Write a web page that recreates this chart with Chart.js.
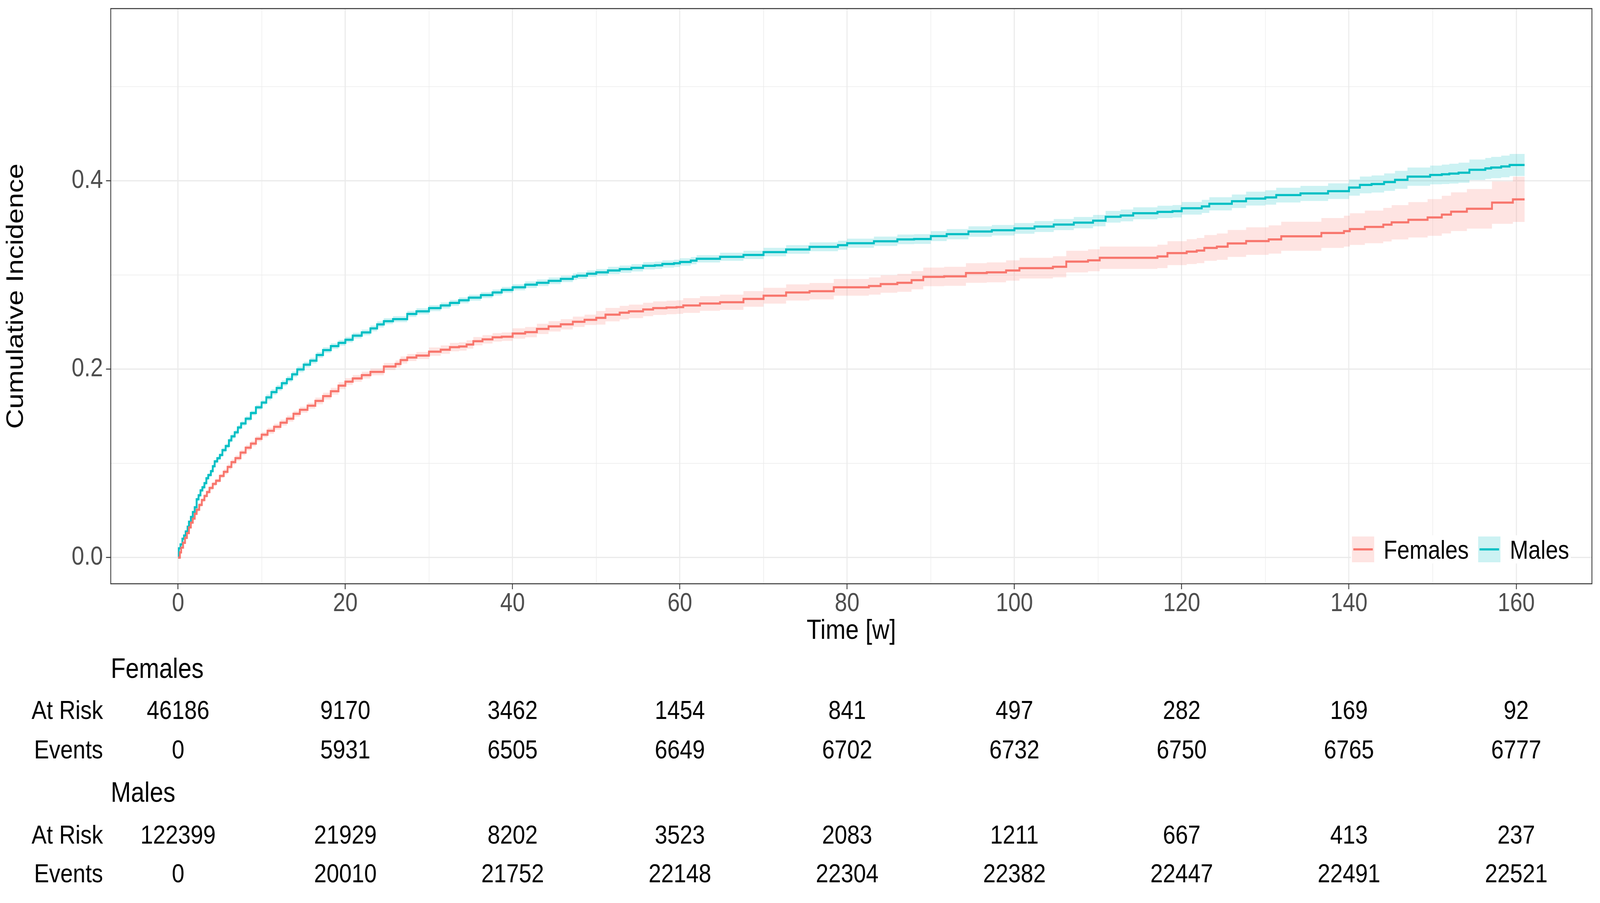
<!DOCTYPE html>
<html>
<head>
<meta charset="utf-8">
<title>Cumulative Incidence by Sex</title>
<script src="https://cdn.jsdelivr.net/npm/chart.js@4.4.1/dist/chart.umd.min.js"></script>
<style>
  html, body { margin: 0; padding: 0; background: #ffffff; overflow: hidden; }
  canvas { display: block; }
</style>
</head>
<body>
<canvas id="cifChart" width="4754" height="2311" style="width:100vw;height:100vh"></canvas>
<script>
// step points (weeks, cumulative incidence, 95% band)
var femaleTime = [0, 0.22, 0.37, 0.6, 0.83, 1.06, 1.3, 1.53, 1.76, 1.99, 2.22, 2.53, 2.84, 3.15, 3.45, 3.76, 4.15, 4.53, 5.0, 5.46,
    5.92, 6.38, 6.85, 7.46, 8.08, 8.7, 9.31, 9.99, 10.7, 11.47, 12.24, 13.01, 13.79, 14.56, 15.48, 16.41, 17.33, 18.26, 19.18, 20,
    20.88, 21.96, 23, 24.6, 26, 26.6, 27.4, 28.5, 30, 31.4, 32.5, 33.6, 34.5, 35.3, 36.4, 37.6, 38.7, 40, 41.5, 42.9, 44.3,
    45.75, 47.2, 48.6, 50, 51.1, 52.8, 53.9, 55.6, 56.8, 58.4, 59.6, 60.4, 62.4, 64.8, 67.6, 70, 72.7, 75.5, 78.4, 82.6,
    84, 86, 87.7, 89.1, 91.6, 94.2, 96.7, 99, 100.6, 104.6, 106.2, 108.8, 110.2, 117.1, 118.3, 120.6, 121.8, 122.7, 124.2, 125.5,
    127.7, 130.4, 131.9, 136.7, 139.4, 140.1, 141.9, 144.1, 145.1, 147.1, 149.4, 151.1, 152.2, 154.1, 157.1, 159.6, 161];
var femaleEst = [0, 0.0055, 0.0106, 0.0157, 0.0209, 0.026, 0.032, 0.0371, 0.0414, 0.0465, 0.0508, 0.0559, 0.0611, 0.0654, 0.0696, 0.0739, 0.0782, 0.0816, 0.0867, 0.091,
    0.0962, 0.1013, 0.1056, 0.1115, 0.1167, 0.121, 0.1261, 0.1304, 0.1346, 0.1389, 0.1432, 0.1475, 0.1526, 0.1569, 0.1612, 0.1663, 0.1714, 0.1766, 0.1825, 0.1868,
    0.1902, 0.1937, 0.1971, 0.2028, 0.2055, 0.2097, 0.2124, 0.2145, 0.2186, 0.2207, 0.2234, 0.2241, 0.2262, 0.2297, 0.2317, 0.2338, 0.2345, 0.2379, 0.2393, 0.2428, 0.2455,
    0.2476, 0.2503, 0.2524, 0.2545, 0.2579, 0.26, 0.2614, 0.2634, 0.2648, 0.2655, 0.2659, 0.2676, 0.2697, 0.2711, 0.2746, 0.278, 0.2814, 0.2828, 0.2869, 0.2883,
    0.2904, 0.2917, 0.2945, 0.298, 0.2986, 0.3021, 0.3028, 0.3048, 0.3073, 0.3087, 0.3142, 0.3156, 0.3183, 0.3197, 0.3232, 0.3248, 0.3259, 0.3287, 0.3301, 0.3335,
    0.336, 0.3377, 0.3411, 0.3446, 0.3466, 0.3487, 0.351, 0.3534, 0.3559, 0.3586, 0.3611, 0.3641, 0.3672, 0.3703, 0.3768, 0.3803, 0.3803];
var femaleLow = [0, 0.0042, 0.0093, 0.0144, 0.0196, 0.0247, 0.0307, 0.0358, 0.0401, 0.0452, 0.0486, 0.0537, 0.0589, 0.0632, 0.0674, 0.0717, 0.076, 0.0794, 0.0845, 0.0882,
    0.0934, 0.0985, 0.1028, 0.1087, 0.1139, 0.1182, 0.1233, 0.1276, 0.1314, 0.1357, 0.14, 0.1443, 0.1494, 0.1537, 0.158, 0.1627, 0.1678, 0.173, 0.1789, 0.1832,
    0.1866, 0.1901, 0.1935, 0.199, 0.2017, 0.2059, 0.2086, 0.2107, 0.2141, 0.2162, 0.2189, 0.2196, 0.2217, 0.2252, 0.2272, 0.2293, 0.23, 0.2324, 0.2338, 0.2373, 0.24,
    0.2421, 0.2448, 0.2469, 0.2473, 0.2507, 0.2528, 0.2542, 0.2562, 0.2576, 0.2583, 0.2587, 0.2598, 0.2619, 0.263, 0.2663, 0.2696, 0.2728, 0.2741, 0.278, 0.2792,
    0.2811, 0.2822, 0.2848, 0.2881, 0.2885, 0.2917, 0.2922, 0.294, 0.2963, 0.2975, 0.3027, 0.3039, 0.3064, 0.3073, 0.3105, 0.3116, 0.3125, 0.315, 0.3161, 0.3192,
    0.3214, 0.3227, 0.3257, 0.3287, 0.3302, 0.3319, 0.3337, 0.3356, 0.3377, 0.3398, 0.3416, 0.3441, 0.3467, 0.3493, 0.3543, 0.3563, 0.3563];
var femaleHigh = [0, 0.0068, 0.0119, 0.017, 0.0222, 0.0273, 0.0333, 0.0384, 0.0427, 0.0478, 0.053, 0.0581, 0.0633, 0.0676, 0.0718, 0.0761, 0.0804, 0.0838, 0.0889, 0.0938,
    0.099, 0.1041, 0.1084, 0.1143, 0.1195, 0.1238, 0.1289, 0.1332, 0.1378, 0.1421, 0.1464, 0.1507, 0.1558, 0.1601, 0.1644, 0.1699, 0.175, 0.1802, 0.1861, 0.1904,
    0.1938, 0.1973, 0.2007, 0.2066, 0.2093, 0.2135, 0.2162, 0.2183, 0.2231, 0.2252, 0.2279, 0.2286, 0.2307, 0.2342, 0.2362, 0.2383, 0.239, 0.2434, 0.2448, 0.2483, 0.251,
    0.2531, 0.2558, 0.2579, 0.2617, 0.2651, 0.2672, 0.2686, 0.2706, 0.272, 0.2727, 0.2731, 0.2754, 0.2775, 0.2792, 0.2829, 0.2864, 0.29, 0.2915, 0.2958, 0.2974,
    0.2997, 0.3012, 0.3042, 0.3079, 0.3087, 0.3125, 0.3134, 0.3156, 0.3183, 0.3199, 0.3257, 0.3273, 0.3302, 0.3321, 0.3359, 0.338, 0.3393, 0.3424, 0.3441, 0.3478,
    0.3506, 0.3527, 0.3565, 0.3605, 0.363, 0.3655, 0.3683, 0.3712, 0.3741, 0.3774, 0.3806, 0.3841, 0.3877, 0.3913, 0.3993, 0.4043, 0.4043];

var maleTime = [0, 0.09, 0.29, 0.52, 0.71, 0.91, 1.14, 1.3, 1.53, 1.76, 1.99, 2.22, 2.45, 2.68, 2.91, 3.15, 3.38, 3.61, 3.92, 4.15,
    4.38, 4.69, 5.0, 5.3, 5.69, 6.08, 6.38, 6.77, 7.15, 7.54, 8.08, 8.7, 9.31, 9.99, 10.55, 11.16, 11.78, 12.4, 13.01, 13.63,
    14.25, 15.02, 15.79, 16.56, 17.33, 18.26, 19.18, 20, 20.88, 21.96, 23, 23.8, 24.6, 25.7, 27.4, 28.5, 30, 31.4, 32.5, 33.6, 34.75,
    36.2, 37.6, 38.7, 40, 41.5, 42.9, 44.3, 45.75, 47.2, 47.7, 48.9, 50, 51.4, 52.8, 54.2, 55.6, 57, 57.9, 59.3, 60,
    61.3, 62, 64.8, 67.6, 70, 72.7, 75.5, 78.9, 80, 83.2, 86, 88, 90, 91.9, 94.5, 97.3, 100, 102.4, 104.7, 107.1,
    109.4, 110.9, 112.7, 114.2, 117.1, 118.9, 120, 122.4, 123.3, 126, 127.7, 130, 131.3, 134.2, 137.5, 140, 141.3, 142.7, 144.2, 145.5,
    147, 149.7, 151.1, 152, 153.1, 154.4, 156.3, 157, 158.2, 159.2, 161];
var maleEst = [0, 0.0098, 0.014, 0.02, 0.0234, 0.0277, 0.0328, 0.038, 0.0431, 0.0483, 0.0534, 0.0619, 0.0662, 0.0713, 0.0747, 0.079, 0.0842, 0.0876, 0.0918, 0.097,
    0.1021, 0.1055, 0.1089, 0.1141, 0.1184, 0.1244, 0.1287, 0.1329, 0.1381, 0.1424, 0.1475, 0.1535, 0.1595, 0.1646, 0.1701, 0.1757, 0.18, 0.1851, 0.1894, 0.1945,
    0.1997, 0.2048, 0.2091, 0.2151, 0.2203, 0.2245, 0.2279, 0.2313, 0.2356, 0.239, 0.2433, 0.2475, 0.251, 0.2531, 0.2586, 0.2614, 0.2648, 0.2676, 0.2703, 0.2731, 0.2759,
    0.2786, 0.2814, 0.2841, 0.2869, 0.2897, 0.2917, 0.2938, 0.2959, 0.2982, 0.2993, 0.3014, 0.3028, 0.3048, 0.3062, 0.3076, 0.3097, 0.3103, 0.3117, 0.3124, 0.3138,
    0.3152, 0.3172, 0.3193, 0.3213, 0.3243, 0.3271, 0.3299, 0.3316, 0.3337, 0.3358, 0.3378, 0.3382, 0.3413, 0.3433, 0.3461, 0.3475, 0.3495, 0.3514, 0.3535, 0.3556,
    0.3577, 0.3618, 0.3632, 0.3655, 0.367, 0.3677, 0.3708, 0.3728, 0.3756, 0.3783, 0.3811, 0.3823, 0.3848, 0.3866, 0.389, 0.3928, 0.3956, 0.3966, 0.3986, 0.401,
    0.4044, 0.4062, 0.4069, 0.4076, 0.4086, 0.4117, 0.4131, 0.4141, 0.4152, 0.4168, 0.4168];
var maleLow = [0, 0.0086, 0.0128, 0.0188, 0.0222, 0.0265, 0.0316, 0.0368, 0.0419, 0.0471, 0.0522, 0.0599, 0.0642, 0.0693, 0.0727, 0.077, 0.0822, 0.0856, 0.0898, 0.095,
    0.1001, 0.1035, 0.1069, 0.1116, 0.1159, 0.1219, 0.1262, 0.1304, 0.1356, 0.1399, 0.145, 0.151, 0.157, 0.1621, 0.1671, 0.1727, 0.177, 0.1821, 0.1864, 0.1915,
    0.1967, 0.2018, 0.2061, 0.2121, 0.2173, 0.2215, 0.2249, 0.2283, 0.2326, 0.236, 0.2403, 0.2443, 0.2478, 0.2499, 0.2554, 0.2582, 0.2616, 0.2644, 0.2671, 0.2699, 0.2727,
    0.2754, 0.2782, 0.2809, 0.2837, 0.2862, 0.2882, 0.2903, 0.2924, 0.2947, 0.2958, 0.2979, 0.2993, 0.3009, 0.3023, 0.3037, 0.3058, 0.3064, 0.3078, 0.3085, 0.3099,
    0.3113, 0.3133, 0.315, 0.3169, 0.3198, 0.3225, 0.3252, 0.3268, 0.3288, 0.3308, 0.3327, 0.333, 0.336, 0.3379, 0.3406, 0.3419, 0.3438, 0.3456, 0.3476, 0.3496,
    0.3516, 0.3556, 0.3569, 0.3591, 0.3605, 0.3611, 0.3641, 0.3659, 0.3686, 0.3711, 0.3737, 0.3747, 0.377, 0.3786, 0.3807, 0.3842, 0.3867, 0.3875, 0.3893, 0.3915,
    0.3947, 0.3962, 0.3966, 0.3971, 0.3979, 0.4008, 0.402, 0.4028, 0.4037, 0.4051, 0.4051];
var maleHigh = [0, 0.011, 0.0152, 0.0212, 0.0246, 0.0289, 0.034, 0.0392, 0.0443, 0.0495, 0.0546, 0.0639, 0.0682, 0.0733, 0.0767, 0.081, 0.0862, 0.0896, 0.0938, 0.099,
    0.1041, 0.1075, 0.1109, 0.1166, 0.1209, 0.1269, 0.1312, 0.1354, 0.1406, 0.1449, 0.15, 0.156, 0.162, 0.1671, 0.1731, 0.1787, 0.183, 0.1881, 0.1924, 0.1975,
    0.2027, 0.2078, 0.2121, 0.2181, 0.2233, 0.2275, 0.2309, 0.2343, 0.2386, 0.242, 0.2463, 0.2507, 0.2542, 0.2563, 0.2618, 0.2646, 0.268, 0.2708, 0.2735, 0.2763, 0.2791,
    0.2818, 0.2846, 0.2873, 0.2901, 0.2932, 0.2952, 0.2973, 0.2994, 0.3017, 0.3028, 0.3049, 0.3063, 0.3087, 0.3101, 0.3115, 0.3136, 0.3142, 0.3156, 0.3163, 0.3177,
    0.3191, 0.3211, 0.3236, 0.3257, 0.3288, 0.3317, 0.3346, 0.3364, 0.3386, 0.3408, 0.3429, 0.3434, 0.3466, 0.3487, 0.3516, 0.3531, 0.3552, 0.3572, 0.3594, 0.3616,
    0.3638, 0.368, 0.3695, 0.3719, 0.3735, 0.3743, 0.3775, 0.3797, 0.3826, 0.3855, 0.3885, 0.3899, 0.3926, 0.3946, 0.3973, 0.4014, 0.4045, 0.4057, 0.4079, 0.4105,
    0.4141, 0.4162, 0.4172, 0.4181, 0.4193, 0.4226, 0.4242, 0.4254, 0.4267, 0.4285, 0.4285];

// risk table under the plot
var tableTimes = [0, 20, 40, 60, 80, 100, 120, 140, 160];
var femaleAtRisk = [46186, 9170, 3462, 1454, 841, 497, 282, 169, 92];
var femaleEvents = [0, 5931, 6505, 6649, 6702, 6732, 6750, 6765, 6777];
var maleAtRisk = [122399, 21929, 8202, 3523, 2083, 1211, 667, 413, 237];
var maleEvents = [0, 20010, 21752, 22148, 22304, 22382, 22447, 22491, 22521];
var groupNames = ["Females", "Males"];
var rowNames = ["At Risk", "Events"];

var femaleColor = "#F8766D";
var maleColor = "#00BFC4";
var fontFamily = "'Liberation Sans', Arial, sans-serif";

function toPoints(times, values) {
    return times.map(function (t, i) { return { x: t, y: values[i] }; });
}

function isMajorX(v) { return Math.round(v) % 20 === 0; }
function isMajorY(v) { return Math.round(v * 10) % 2 === 0; }

// theme_bw style panel border
var panelBorder = {
    id: "panelBorder",
    afterDatasetsDraw: function (chart) {
        var a = chart.chartArea, ctx = chart.ctx;
        ctx.save();
        ctx.strokeStyle = "#333333";
        ctx.lineWidth = 2.5;
        ctx.strokeRect(a.left, a.top, a.right - a.left, a.bottom - a.top);
        ctx.restore();
    }
};

// legend inside the panel, bottom right
var insideLegend = {
    id: "insideLegend",
    afterDatasetsDraw: function (chart) {
        var a = chart.chartArea, ctx = chart.ctx;
        var keys = [
            { text: groupNames[0], color: femaleColor, fill: "rgba(248,118,109,0.2)" },
            { text: groupNames[1], color: maleColor, fill: "rgba(0,191,196,0.2)" }
        ];
        ctx.save();
        ctx.font = "66px " + fontFamily;
        var keyX = a.right - 713, keyY = a.bottom - 121, keySize = 66;
        var w1 = ctx.measureText(keys[0].text).width;
        var w2 = ctx.measureText(keys[1].text).width;
        var bgRight = keyX + 94 + w1 + 28 + 95 + w2 + 4;
        ctx.fillStyle = "#ffffff";
        ctx.fillRect(keyX - 3, keyY - 3, bgRight - keyX + 3, keySize + 6);
        var x = keyX;
        keys.forEach(function (k) {
            ctx.fillStyle = k.fill;
            ctx.fillRect(x, keyY, keySize, keySize);
            ctx.strokeStyle = k.color;
            ctx.lineWidth = 5.5;
            ctx.beginPath();
            ctx.moveTo(x + 4, keyY + keySize / 2);
            ctx.lineTo(x + keySize - 4, keyY + keySize / 2);
            ctx.stroke();
            ctx.fillStyle = "#000000";
            ctx.textAlign = "left";
            ctx.textBaseline = "alphabetic";
            ctx.fillText(k.text, x + 94, a.bottom - 64);
            x = x + 94 + ctx.measureText(k.text).width + 28;
        });
        ctx.restore();
    }
};

// numbers at risk / events table
var riskTable = {
    id: "riskTable",
    afterDraw: function (chart) {
        var ctx = chart.ctx, xs = chart.scales.x;
        var groups = [
            { name: groupNames[0], rows: [femaleAtRisk, femaleEvents], y: [1715, 1822, 1923] },
            { name: groupNames[1], rows: [maleAtRisk, maleEvents], y: [2032, 2141, 2240] }
        ];
        ctx.save();
        ctx.fillStyle = "#000000";
        ctx.textBaseline = "middle";
        groups.forEach(function (g) {
            ctx.font = "72px " + fontFamily;
            ctx.textAlign = "left";
            ctx.fillText(g.name, chart.chartArea.left, g.y[0]);
            ctx.font = "67px " + fontFamily;
            g.rows.forEach(function (row, r) {
                ctx.textAlign = "right";
                ctx.fillText(rowNames[r], 306, g.y[r + 1]);
                ctx.textAlign = "center";
                row.forEach(function (val, i) {
                    ctx.fillText(String(val), xs.getPixelForValue(tableTimes[i]), g.y[r + 1]);
                });
            });
        });
        ctx.restore();
    }
};

function lineSet(label, times, values, color) {
    return {
        label: label,
        data: toPoints(times, values),
        borderColor: color,
        borderWidth: 5.5,
        stepped: true,
        pointRadius: 0,
        fill: false
    };
}

function bandEdge(label, times, values, fillTo, fillColor) {
    return {
        label: label,
        data: toPoints(times, values),
        borderColor: "rgba(0,0,0,0)",
        borderWidth: 0,
        stepped: true,
        pointRadius: 0,
        fill: fillTo,
        backgroundColor: fillColor
    };
}

var ctx = document.getElementById("cifChart").getContext("2d");
var cifChart = new Chart(ctx, {
    type: "line",
    data: {
        datasets: [
            lineSet("Females", femaleTime, femaleEst, femaleColor),
            lineSet("Males", maleTime, maleEst, maleColor),
            bandEdge("Females lower", femaleTime, femaleLow, false, "rgba(0,0,0,0)"),
            bandEdge("Females upper", femaleTime, femaleHigh, 2, "rgba(248,118,109,0.2)"),
            bandEdge("Males lower", maleTime, maleLow, false, "rgba(0,0,0,0)"),
            bandEdge("Males upper", maleTime, maleHigh, 4, "rgba(0,191,196,0.2)")
        ]
    },
    options: {
        responsive: false,
        animation: false,
        devicePixelRatio: 1,
        layout: { padding: { left: 0, top: 22, right: 24, bottom: 657 } },
        plugins: {
            legend: { display: false },
            tooltip: { enabled: false }
        },
        scales: {
            x: {
                type: "linear",
                min: -8.05,
                max: 169.05,
                afterFit: function (scale) {
                    scale.height = 160;
                    scale.paddingLeft = 0;
                    scale.paddingRight = 0;
                },
                border: { display: false },
                grid: {
                    color: "#EBEBEB",
                    lineWidth: function (c) { return c.tick && isMajorX(c.tick.value) ? 3.2 : 1.6; },
                    tickLength: 14,
                    tickWidth: 2.5,
                    tickColor: function (c) { return c.tick && isMajorX(c.tick.value) ? "#333333" : "rgba(0,0,0,0)"; }
                },
                ticks: {
                    stepSize: 10,
                    includeBounds: false,
                    autoSkip: false,
                    maxRotation: 0,
                    padding: 5,
                    color: "#4D4D4D",
                    font: { family: fontFamily, size: 66, lineHeight: 1 },
                    callback: function (v) { return isMajorX(v) ? String(v) : ""; }
                },
                title: {
                    display: true,
                    text: "Time [w]",
                    color: "#000000",
                    font: { family: fontFamily, size: 71, lineHeight: 1.1 },
                    padding: { top: 0, bottom: 0 }
                }
            },
            y: {
                type: "linear",
                min: -0.0278,
                max: 0.5828,
                afterFit: function (scale) {
                    scale.width = 329;
                    scale.paddingTop = 0;
                    scale.paddingBottom = 0;
                },
                border: { display: false },
                grid: {
                    color: "#EBEBEB",
                    lineWidth: function (c) { return c.tick && isMajorY(c.tick.value) ? 3.2 : 1.6; },
                    tickLength: 14,
                    tickWidth: 2.5,
                    tickColor: function (c) { return c.tick && isMajorY(c.tick.value) ? "#333333" : "rgba(0,0,0,0)"; }
                },
                ticks: {
                    stepSize: 0.1,
                    includeBounds: false,
                    autoSkip: false,
                    padding: 9,
                    color: "#4D4D4D",
                    font: { family: fontFamily, size: 67, lineHeight: 1 },
                    callback: function (v) { return isMajorY(v) ? v.toFixed(1) : ""; }
                },
                title: {
                    display: true,
                    text: "Cumulative Incidence",
                    color: "#000000",
                    font: { family: fontFamily, size: 71, lineHeight: 1.1 },
                    padding: { top: 9, bottom: 0 }
                }
            }
        }
    },
    plugins: [panelBorder, insideLegend, riskTable]
});
</script>
</body>
</html>
